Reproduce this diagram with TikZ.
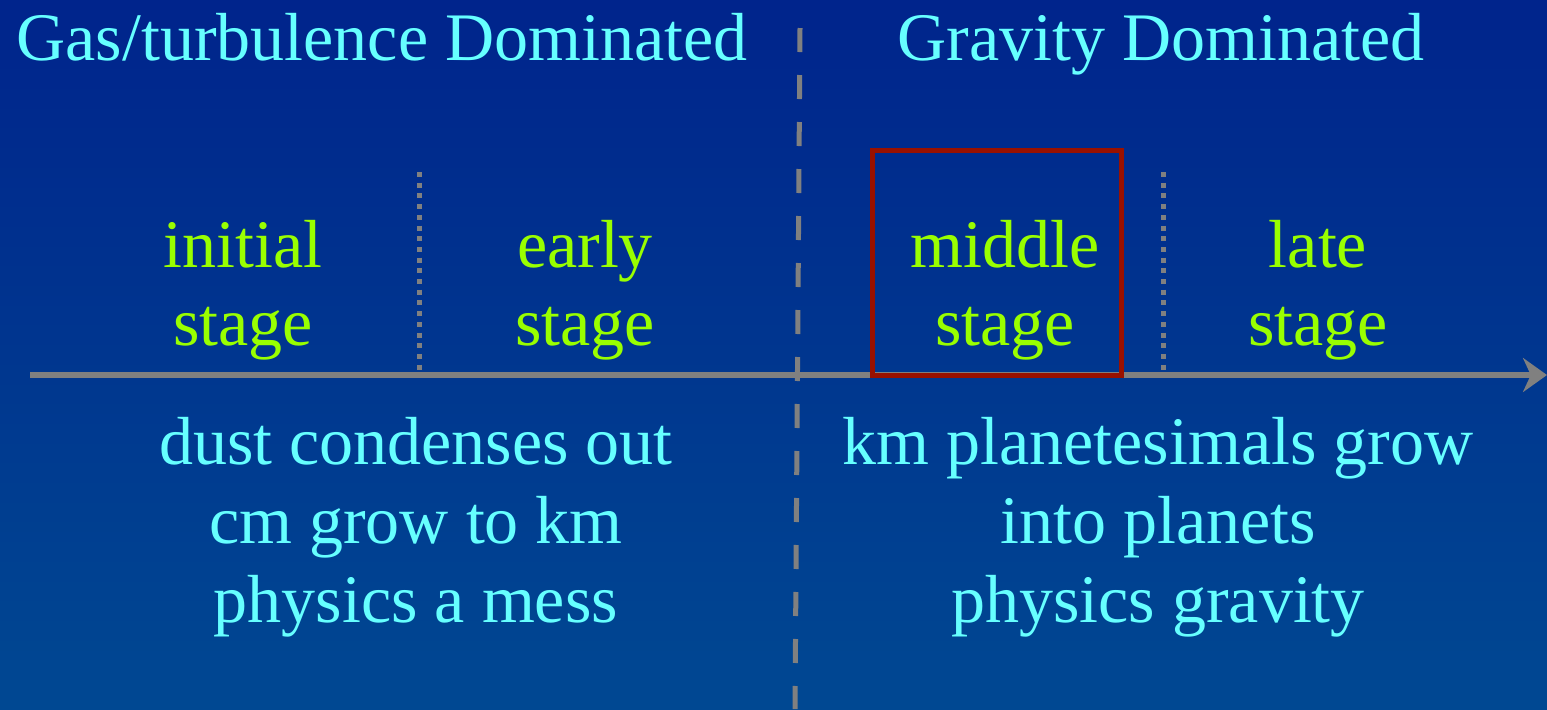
\documentclass[tikz,border=0pt]{standalone}
\usepackage{fontspec}
\setmainfont{Liberation Serif}
\usetikzlibrary{arrows.meta}
\definecolor{SkyTop}{RGB}{0,36,140}
\definecolor{SkyBottom}{RGB}{0,72,146}
\definecolor{TextCyan}{RGB}{102,255,255}
\definecolor{StageGreen}{RGB}{153,255,0}
\definecolor{BoxRed}{RGB}{153,17,0}
\definecolor{AxisGray}{RGB}{128,128,128}

\begin{document}
\begin{tikzpicture}[
  x=0.5pt, y=-0.5pt,
  heading/.style={
    text=TextCyan,
    font=\fontsize{34}{40}\selectfont,
    anchor=base,
    inner sep=0pt
  },
  stagelabel/.style={
    text=StageGreen,
    font=\fontsize{34}{39}\selectfont,
    align=center,
    anchor=base,
    inner sep=0pt
  },
  physics/.style={
    text=TextCyan,
    font=\fontsize{34}{39.5}\selectfont,
    align=center,
    anchor=base,
    inner sep=0pt
  },
  axis/.style={draw=AxisGray, line width=3pt, -{Stealth[length=12pt, width=17pt]}},
  divider/.style={draw=AxisGray, line width=2.5pt, dash pattern=on 12pt off 11.5pt},
  substage/.style={draw=AxisGray, line width=2.5pt, dash pattern=on 2.5pt off 2.85pt},
  highlight/.style={draw=BoxRed, line width=2.5pt}
]
% background
\shade[top color=SkyTop, bottom color=SkyBottom] (0,0) rectangle (1547,709);
\useasboundingbox (0,0) rectangle (1547,709);

% time axis and dividers
\coordinate (axisstart) at (30,375);
\coordinate (axisend) at (1547,375);
\coordinate (divtop) at (800,28);
\coordinate (divbottom) at (795,709);
\coordinate (sub1top) at (419,172);
\coordinate (sub1bottom) at (419,372);
\coordinate (sub2top) at (1163,172);
\coordinate (sub2bottom) at (1163,372);

\draw[substage] (sub1top) -- (sub1bottom);
\draw[substage] (sub2top) -- (sub2bottom);
\draw[axis] (axisstart) -- (axisend);
\draw[divider] (divtop) -- (divbottom);

% headings
\node[heading] (gasreg) at (382,60) {Gas/turbulence Dominated};
\node[heading] (gravreg) at (1161,60) {Gravity Dominated};

% stages (base = last line)
\node[stagelabel] (initial) at (243,345) {initial\\stage};
\node[stagelabel] (early) at (585,345) {early\\stage};
\node[stagelabel] (middle) at (1005,345) {middle\\stage};
\node[stagelabel] (late) at (1318,345) {late\\stage};
\draw[highlight] (872,150) rectangle (1121,375);

% physics
\node[physics] (gasphys) at (416,622) {dust condenses out\\cm grow to km\\physics a mess};
\node[physics] (gravphys) at (1158,622) {km planetesimals grow\\into planets\\physics gravity};
\end{tikzpicture}
\end{document}
